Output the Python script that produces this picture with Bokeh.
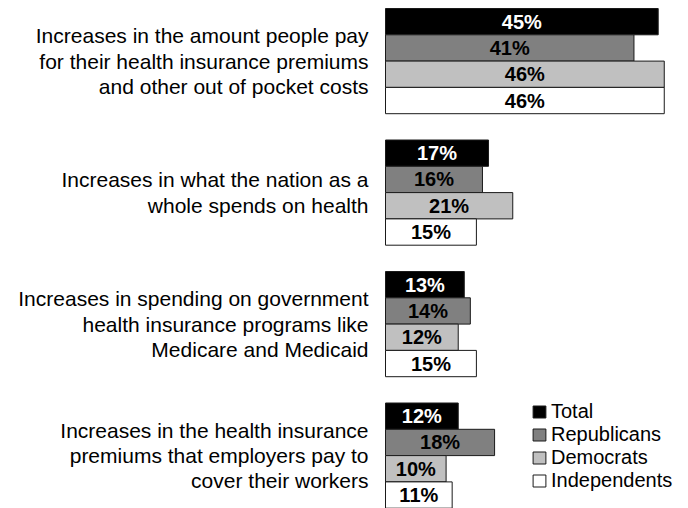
import numpy as np
from bokeh.plotting import figure
from bokeh.models import ColumnDataSource, Range1d, Legend, LegendItem
from bokeh.core.properties import value
from bokeh.embed import file_html
from bokeh.resources import INLINE

# ---- data ----
categories = [
    "Increases in the amount people pay\nfor their health insurance premiums\nand other out of pocket costs",
    "Increases in what the nation as a\nwhole spends on health",
    "Increases in spending on government\nhealth insurance programs like\nMedicare and Medicaid",
    "Increases in the health insurance\npremiums that employers pay to\ncover their workers",
]
series_names = ["Total", "Republicans", "Democrats", "Independents"]
total = [45, 17, 13, 12]
republicans = [41, 16, 14, 18]
democrats = [46, 21, 12, 10]
independents = [46, 15, 15, 11]
series_values = [total, republicans, democrats, independents]

fill_colors = ["#000000", "#808080", "#c0c0c0", "#ffffff"]
label_colors = ["#ffffff", "#000000", "#000000", "#000000"]

# ---- layout ----
W, H = 688, 508
px_per_pct = 6.06
bar_px = 26.3
left_px = 385
top_px = 8

x_range = Range1d(-left_px / px_per_pct, (W - left_px) / px_per_pct)
y_range = Range1d(-(H - top_px) / bar_px, top_px / bar_px)

p = figure(width=W, height=H, x_range=x_range, y_range=y_range,
           output_backend="svg", toolbar_location=None,
           x_axis_location=None, y_axis_location=None,
           min_border=0, outline_line_color=None)
p.grid.visible = False
p.background_fill_color = "white"
p.border_fill_color = "white"

n_cat = len(categories)
n_ser = len(series_names)
group_step = n_ser + 1

items = []
for s, (name, vals) in enumerate(zip(series_names, series_values)):
    ys = [-(g * group_step + s + 0.5) for g in range(n_cat)]
    src = ColumnDataSource(dict(
        y=ys, v=vals,
        lab=[f"{v}%" for v in vals],
        xm=[v / 2 for v in vals],
    ))
    r = p.hbar(y="y", left=0, right="v", height=1.0, source=src,
               fill_color=fill_colors[s], line_color="#1a1a1a", line_width=1)
    p.text(x="xm", y="y", text="lab", source=src,
           text_align="center", text_baseline="middle",
           text_font=value("Liberation Sans"), text_font_style="bold",
           text_font_size="20px", text_color=label_colors[s])
    items.append(LegendItem(label=name, renderers=[r]))

cat_src = ColumnDataSource(dict(
    y=[-(g * group_step + n_ser / 2) for g in range(n_cat)],
    x=[0] * n_cat,
    t=categories,
))
p.text(x="x", y="y", text="t", source=cat_src, x_offset=-17,
       text_align="right", text_baseline="middle",
       text_font=value("Liberation Sans"), text_font_size="21px",
       text_line_height=1.1, text_color="#000000")

legend = Legend(items=items, location=(531, 16), orientation="vertical",
                padding=0, margin=0, spacing=0,
                glyph_width=16, glyph_height=15, label_height=23,
                label_standoff=4,
                label_text_font="Liberation Sans", label_text_font_size="20px",
                label_text_color="#000000",
                background_fill_alpha=0, border_line_alpha=0)
p.add_layout(legend)

open("out.html", "w").write(file_html(p, INLINE))
